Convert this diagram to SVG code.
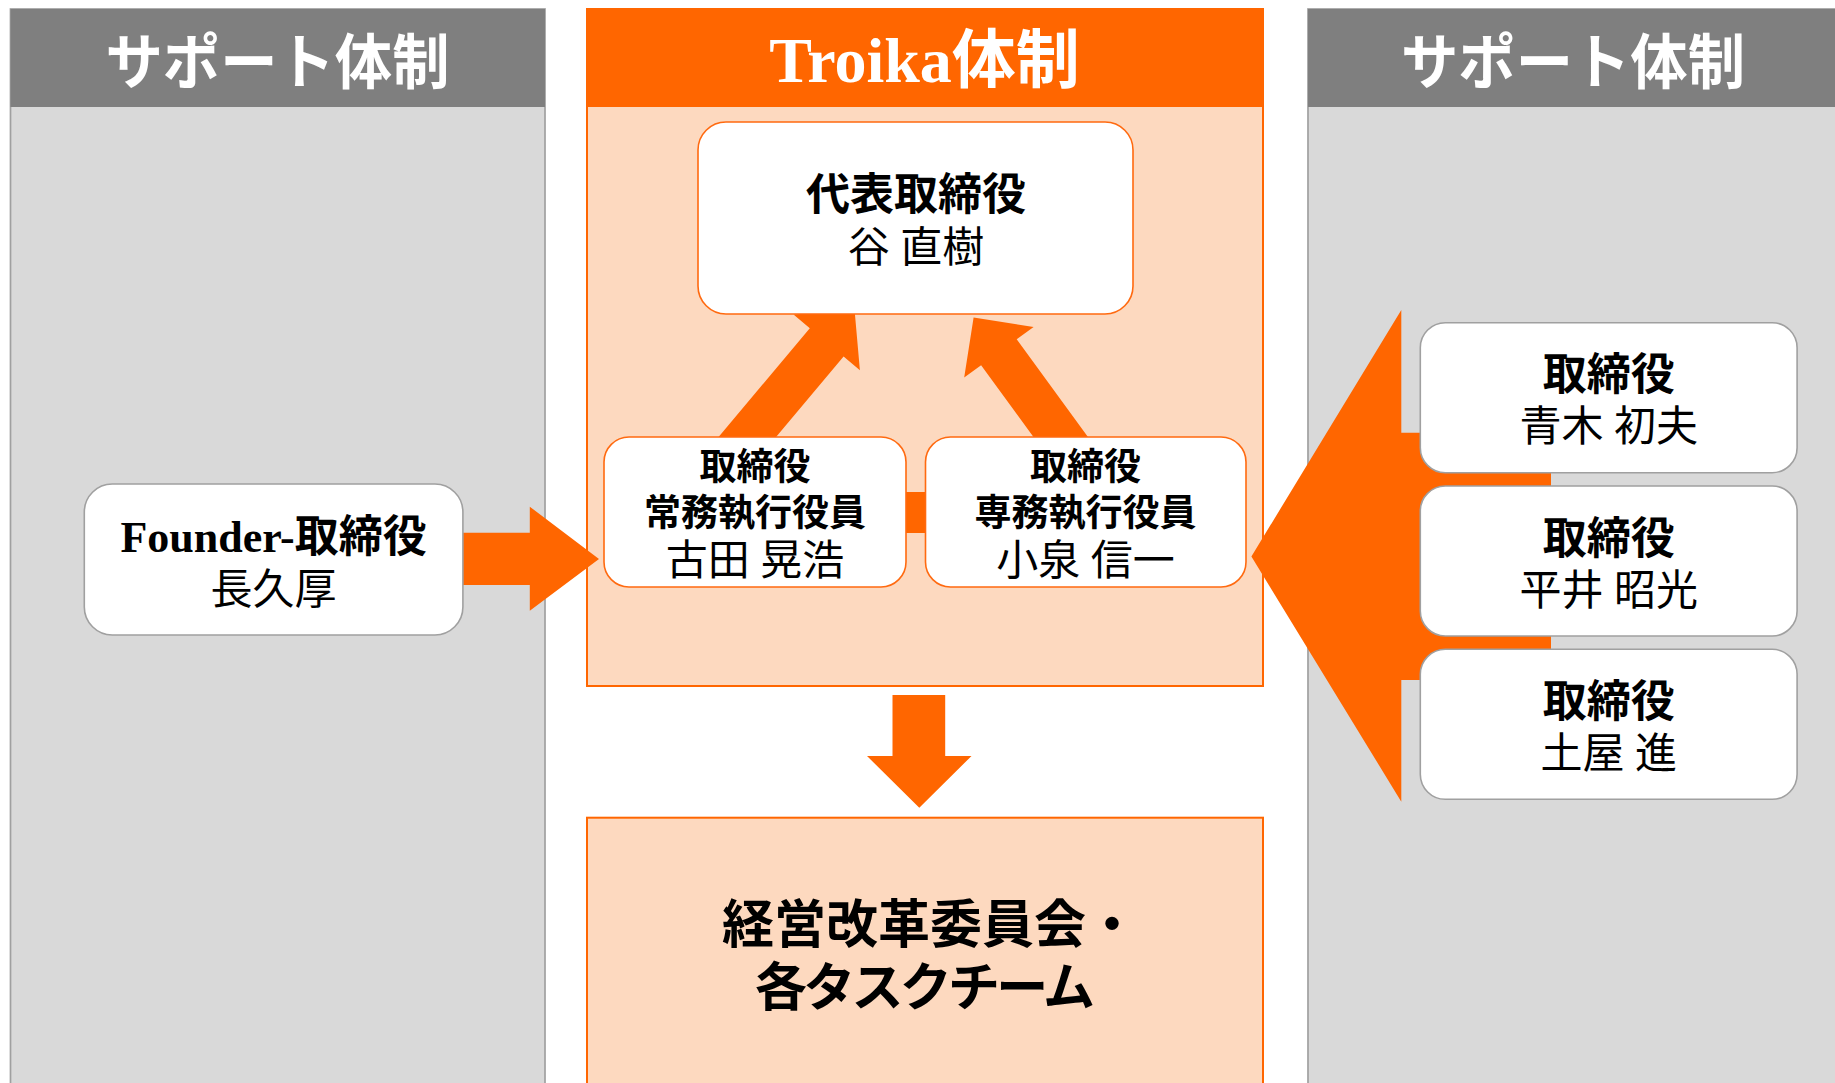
<svg xmlns="http://www.w3.org/2000/svg" width="1835" height="1083" viewBox="0 0 1835 1083">
<style>
.t{font-family:'Liberation Serif','Noto Sans CJK JP',serif;text-anchor:middle;fill:#000}
.b{font-weight:700}
.n{font-weight:400;font-size:42px}
.hd{font-family:'Liberation Serif','Noto Sans CJK JP',serif;text-anchor:middle;fill:#fff;font-weight:700}
.arr{fill:#FF6600}
.gbox{fill:#fff;stroke:#A0A0A0;stroke-width:1.6}
.obox{fill:#fff;stroke:#FF6A10;stroke-width:1.6}
.gpanel{fill:#D9D9D9;stroke:#A0A0A0;stroke-width:1.7}
.opanel{fill:#FDD9BF;stroke:#FF6600;stroke-width:2}
</style>
<rect width="1835" height="1083" fill="#fff"/>
<g id="panel-left">
<rect class="gpanel" x="10.5" y="9" width="534.5" height="1090"/>
<rect x="10.5" y="9" width="534.5" height="98" fill="#7F7F7F"/>
<text class="hd" x="277.5" y="84" font-size="60" textLength="344" lengthAdjust="spacingAndGlyphs">サポート体制</text>
</g>
<g id="panel-center">
<rect class="opanel" x="587" y="9" width="676" height="677"/>
<rect x="587" y="9" width="676" height="98" fill="#FF6600"/>
<text class="hd" x="924.5" y="82" font-size="64">Troika体制</text>
</g>
<g id="panel-right">
<rect class="gpanel" x="1308" y="9" width="540" height="1090"/>
<rect x="1308" y="9" width="540" height="98" fill="#7F7F7F"/>
<text class="hd" x="1573" y="84" font-size="60" textLength="344" lengthAdjust="spacingAndGlyphs">サポート体制</text>
</g>
<g id="connectors">
<polygon class="arr" points="455,532.7 529.8,532.7 529.8,506.7 599,559 529.8,610.7 529.8,585 455,585"/>
<polygon class="arr" points="713.3,443.2 809.8,328.3 793.5,314.6 854.5,309.3 859.9,370.2 843.6,356.5 747.1,471.4"/>
<polygon class="arr" points="1069.5,486.4 981.1,365.2 964.2,377.5 973.6,317.5 1033.6,326.9 1016.7,339.2 1105.1,460.4"/>
<rect class="arr" x="900" y="492" width="32" height="41"/>
<polygon class="arr" points="1551,432.7 1401.3,432.7 1401.3,310 1251.4,556.5 1401.3,801.7 1401.3,680 1551,680"/>
<polygon class="arr" points="892.5,695 945.2,695 945.2,756 971.5,756 919.3,807.7 867,756 892.5,756"/>
</g>
<g id="node-founder">
<rect class="gbox" x="84.3" y="484" width="378.6" height="151" rx="28"/>
<text class="t b" x="273.6" y="552" font-size="44">Founder-取締役</text>
<text class="t n" x="273.6" y="604">長久厚</text>
</g>
<g id="node-ceo">
<rect class="obox" x="698" y="122" width="435" height="192" rx="28"/>
<text class="t b" x="916" y="210" font-size="44">代表取締役</text>
<text class="t n" x="916" y="262">谷 直樹</text>
</g>
<g id="node-furuta">
<rect class="obox" x="604" y="437" width="302" height="150" rx="25"/>
<text class="t b" x="755" y="480" font-size="37">取締役</text>
<text class="t b" x="755" y="526" font-size="37">常務執行役員</text>
<text class="t n" x="755" y="575">古田 晃浩</text>
</g>
<g id="node-koizumi">
<rect class="obox" x="925.5" y="437" width="320.5" height="150" rx="25"/>
<text class="t b" x="1085.6" y="480" font-size="37">取締役</text>
<text class="t b" x="1085.6" y="526" font-size="37">専務執行役員</text>
<text class="t n" x="1085.6" y="575">小泉 信一</text>
</g>
<g id="node-aoki">
<rect class="gbox" x="1420.3" y="322.7" width="376.8" height="150" rx="25"/>
<text class="t b" x="1608.7" y="390.2" font-size="44">取締役</text>
<text class="t n" x="1608.7" y="441.2">青木 初夫</text>
</g>
<g id="node-hirai">
<rect class="gbox" x="1420.3" y="486" width="376.8" height="150" rx="25"/>
<text class="t b" x="1608.7" y="553.5" font-size="44">取締役</text>
<text class="t n" x="1608.7" y="604.5">平井 昭光</text>
</g>
<g id="node-tsuchiya">
<rect class="gbox" x="1420.3" y="649.3" width="376.8" height="150" rx="25"/>
<text class="t b" x="1608.7" y="716.8" font-size="44">取締役</text>
<text class="t n" x="1608.7" y="767.8">土屋 進</text>
</g>
<g id="node-committee">
<rect class="opanel" x="587" y="817.7" width="676" height="300"/>
<text class="t b" x="930" y="943" font-size="52">経営改革委員会・</text>
<text class="t b" x="925" y="1006" font-size="52" textLength="340" lengthAdjust="spacing">各タスクチーム</text>
</g>
</svg>
